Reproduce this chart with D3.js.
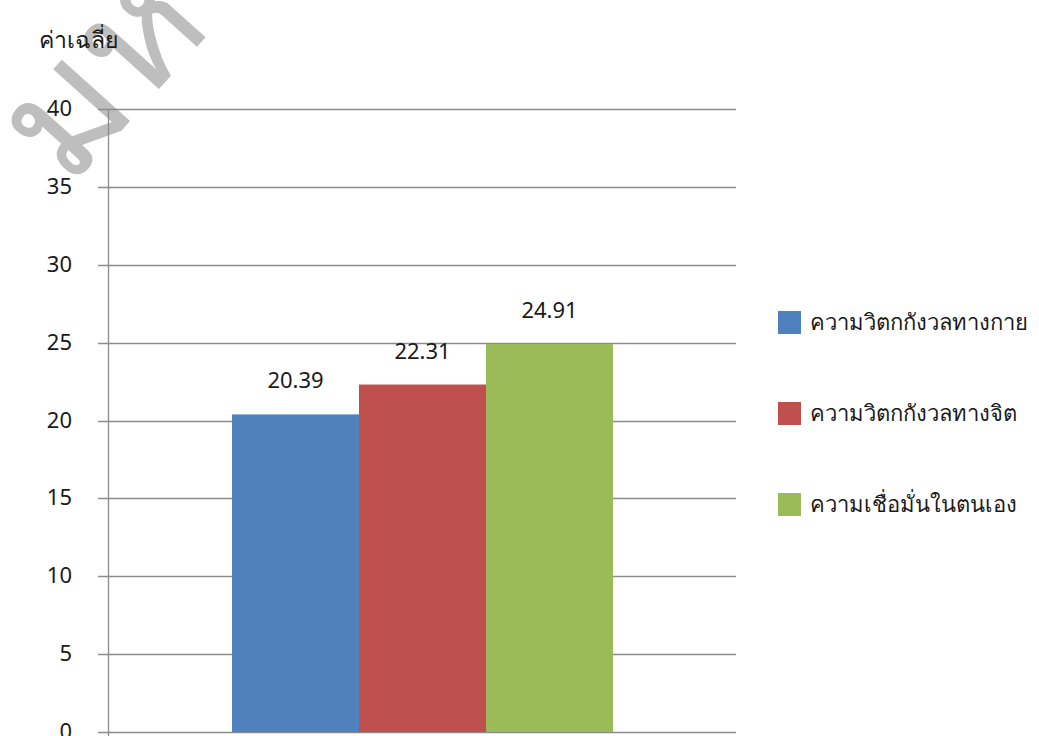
<!DOCTYPE html>
<html lang="th">
<head>
<meta charset="UTF-8">
<script src="https://d3js.org/d3.v7.min.js"></script>
<style>
  body { margin: 0; background: #fff; }
  text { font-family: "Noto Sans", "DejaVu Sans", sans-serif; }
</style>
</head>
<body>
<script>
// chart data
const categories = ['ความวิตกกังวลทางกาย', 'ความวิตกกังวลทางจิต', 'ความเชื่อมั่นในตนเอง'];
const values = [20.39, 22.31, 24.91];
const colors = ['#4f81bd', '#c0504d', '#9bbb59'];
const yTicks = [0, 5, 10, 15, 20, 25, 30, 35, 40];
const yTitle = 'ค่าเฉลี่ย';

const W = 1039, H = 736;
const svg = d3.select('body').append('svg')
    .attr('width', W)
    .attr('height', H);

// plot area
const plotLeft = 108, plotRight = 736, plotTop = 109, plotBottom = 732;

const y = d3.scaleLinear().domain([0, 40]).range([plotBottom, plotTop]);
const x = d3.scaleBand().domain(categories).range([plotLeft + 124, plotRight - 123]);

// watermark, faint and behind the chart
svg.append('text')
    .attr('transform', 'translate(68,190) rotate(-48)')
    .attr('font-size', 165)
    .attr('fill', '#b3b3b3')
    .attr('opacity', 0.85)
    .text('มหาวิทยาลัย');

// gridlines
svg.append('g')
    .selectAll('line')
    .data(yTicks)
    .join('line')
    .attr('x1', plotLeft - 10)
    .attr('x2', plotRight)
    .attr('y1', d => Math.round(y(d)) + 0.5)
    .attr('y2', d => Math.round(y(d)) + 0.5)
    .attr('stroke', '#8c8c8c')
    .attr('stroke-width', 1.3);

// bars
svg.append('g')
    .selectAll('rect')
    .data(values)
    .join('rect')
    .attr('x', (d, i) => x(categories[i]))
    .attr('width', x.bandwidth())
    .attr('y', d => y(d))
    .attr('height', d => plotBottom - y(d))
    .attr('fill', (d, i) => colors[i]);

// y axis line
svg.append('line')
    .attr('x1', plotLeft + 0.5).attr('x2', plotLeft + 0.5)
    .attr('y1', plotTop).attr('y2', plotBottom + 4)
    .attr('stroke', '#8c8c8c')
    .attr('stroke-width', 1.3);

// tick labels
svg.append('g')
    .selectAll('text')
    .data(yTicks)
    .join('text')
    .attr('x', 72)
    .attr('y', d => y(d) + 7)
    .attr('text-anchor', 'end')
    .attr('font-size', 22)
    .attr('fill', '#1a1a1a')
    .text(d => d);

// value labels
svg.append('g')
    .selectAll('text')
    .data(values)
    .join('text')
    .attr('x', (d, i) => x(categories[i]) + x.bandwidth() / 2)
    .attr('y', d => y(d) - 26)
    .attr('text-anchor', 'middle')
    .attr('font-size', 22)
    .attr('fill', '#1a1a1a')
    .text(d => d.toFixed(2));

// axis title
svg.append('text')
    .attr('x', 39)
    .attr('y', 48)
    .attr('font-size', 23)
    .attr('fill', '#1a1a1a')
    .text(yTitle);

// legend
const legend = svg.append('g')
    .selectAll('g')
    .data(categories)
    .join('g')
    .attr('transform', (d, i) => `translate(778, ${311 + i * 91})`);

legend.append('rect')
    .attr('width', 23)
    .attr('height', 23)
    .attr('fill', (d, i) => colors[i]);

legend.append('text')
    .attr('x', 32)
    .attr('y', 19)
    .attr('font-size', 22)
    .attr('fill', '#1a1a1a')
    .text(d => d);
</script>
</body>
</html>
